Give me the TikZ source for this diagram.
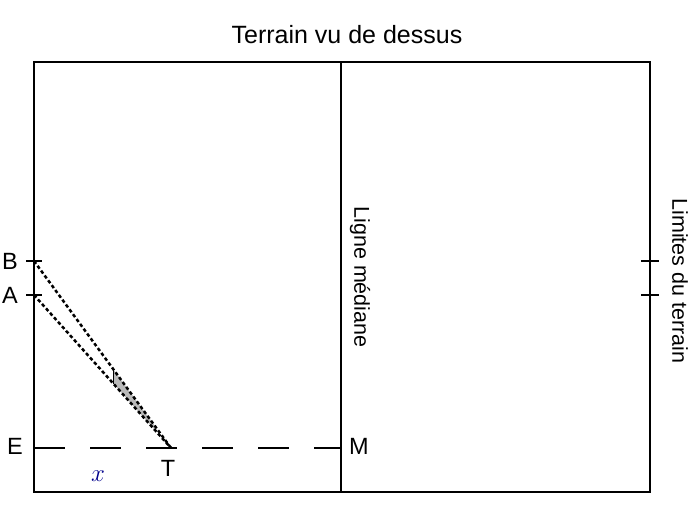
\documentclass[tikz,border=0pt]{standalone}
\usepackage{fontspec}
\setmainfont{Liberation Sans}
\usetikzlibrary{calc}
\begin{document}
\begin{tikzpicture}[x=1pt,y=-1pt,
  frame/.style={line width=2.8pt},
  lbl/.style={font=\fontsize{21.5}{24}\selectfont, inner sep=0pt},
  pt/.style={font=\fontsize{23.5}{26}\selectfont, inner sep=0pt},
  tick/.style={line width=2pt},
  sight/.style={line width=2.5pt, dash pattern=on 3.5pt off 2.5pt},
  eline/.style={line width=2.8pt, dash pattern=on 31pt off 25pt}]
\useasboundingbox (0,0) rectangle (694,526);
% field
\coordinate (TL) at (34,62);
\coordinate (BR) at (650,492);
\draw[frame] (TL) rectangle (BR);
\coordinate (Mtop) at (341,62);
\coordinate (M) at (341,448);
\coordinate (Mbot) at (341,492);
\draw[frame] (Mtop) -- (Mbot);
% points
\coordinate (B) at (34,261);
\coordinate (A) at (34,295);
\coordinate (E) at (34,448);
\coordinate (T) at (171,448);
% ticks
\draw[tick] (26,261) -- (42,261);
\draw[tick] (26,295) -- (42,295);
\draw[tick] (641,261) -- (659,261);
\draw[tick] (641,295) -- (659,295);
% gray area between sight lines
\fill[gray!55] ($(B)!0.58!(T)$) -- ($(B)!0.88!(T)$) -- ($(A)!0.88!(T)$) -- ($(A)!0.58!(T)$) -- cycle;
\draw[line width=1.6pt] ($(B)!0.58!(T)$) -- ($(A)!0.58!(T)$);
% sight lines
\draw[sight] (B) -- (T);
\draw[sight] (A) -- (T);
% dashed line E-M
\draw[eline] (E) -- (M);
% labels
\node[font=\fontsize{25}{30}\selectfont, inner sep=0pt] (title) at (347,35) {Terrain vu de dessus};
\node[pt] (lB) at (10,261) {B};
\node[pt] (lA) at (10,295) {A};
\node[pt] (lE) at (15,446) {E};
\node[pt] (lM) at (359,446) {M};
\node[pt] (lT) at (168,468) {T};
\node[font=\fontsize{26}{28}\selectfont, inner sep=0pt, text=blue!55!black] (lx) at (98,476) {$x$};
\node[lbl, rotate=-90] (lmed) at (360,277) {Ligne médiane};
\node[lbl, rotate=-90] (llim) at (680,281) {Limites du terrain};
\end{tikzpicture}
\end{document}
